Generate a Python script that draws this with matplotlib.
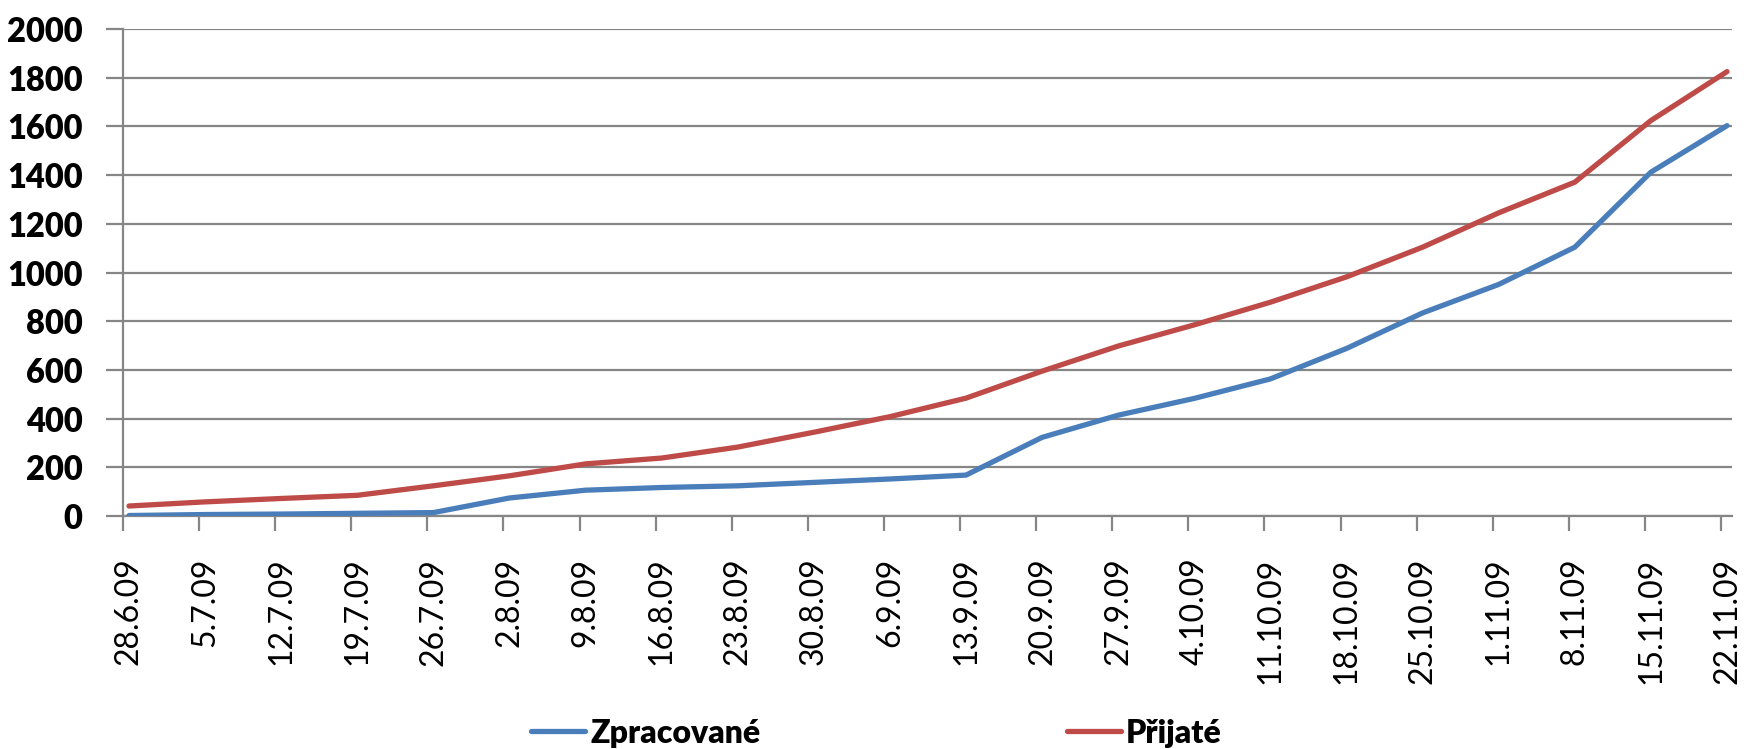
import matplotlib
matplotlib.use("Agg")
import matplotlib.pyplot as plt
import numpy as np

dates = ["28.6.09", "5.7.09", "12.7.09", "19.7.09", "26.7.09", "2.8.09", "9.8.09",
         "16.8.09", "23.8.09", "30.8.09", "6.9.09", "13.9.09", "20.9.09", "27.9.09",
         "4.10.09", "11.10.09", "18.10.09", "25.10.09", "1.11.09", "8.11.09",
         "15.11.09", "22.11.09"]
zpracovane = [2, 6, 8, 11, 14, 74, 106, 117, 124, 138, 152, 168, 323, 414,
              483, 563, 688, 834, 951, 1104, 1412, 1603]
prijate = [41, 58, 72, 85, 124, 165, 214, 238, 283, 344, 408, 484, 595, 698,
           785, 878, 982, 1104, 1245, 1371, 1624, 1825]
yticks = list(range(0, 2001, 200))

plt.rcParams['font.family'] = ['Lato', 'DejaVu Sans']

W, H = 1744, 749
fig = plt.figure(figsize=(W / 100, H / 100), dpi=100)
left, right, top, bottom = 123, 1732, 29, 516
ax = fig.add_axes([left / W, 1 - bottom / H, (right - left) / W, (bottom - top) / H])

grid_c = '#868686'
x = np.arange(len(dates))
off = 6 / 76.1

ax.plot(x, zpracovane, color='#4A7EBB', lw=3.8, solid_capstyle='round',
        solid_joinstyle='round', label='Zpracované', zorder=3)
ax.plot(x, prijate, color='#BE4B48', lw=3.8, solid_capstyle='round',
        solid_joinstyle='round', label='Přijaté', zorder=3)

ax.set_xlim(-off, len(dates) - 1 + 5 / 76.1)
ax.set_ylim(0, 2000)
ax.set_yticks(yticks)
ax.set_yticklabels([str(v) for v in yticks], fontsize=23.5, fontweight='heavy')
ax.yaxis.grid(True, color=grid_c, lw=1.6)
ax.set_axisbelow(True)

# major ticks: marks only; minor ticks: labels only
ax.set_xticks(x - off)
ax.set_xticklabels([])
ax.set_xticks(x, minor=True)
ax.set_xticklabels(dates, minor=True, rotation=90, fontsize=23)
ax.tick_params(axis='x', which='major', direction='out', length=11, width=1.6, color=grid_c)
ax.tick_params(axis='x', which='minor', length=0, pad=30)
ax.tick_params(axis='y', direction='out', length=12, width=1.6, color=grid_c, pad=17)

for s in ['top', 'right']:
    ax.spines[s].set_visible(False)
for s in ['left', 'bottom']:
    ax.spines[s].set_color(grid_c)
    ax.spines[s].set_linewidth(1.6)

fig.legend(loc='center', bbox_to_anchor=(0.5026, 1 - 733 / H), ncol=2, frameon=False,
           prop={'size': 23, 'weight': 'heavy'}, handlelength=1.7, handletextpad=0.15,
           columnspacing=9.6)

fig.savefig('out.png', dpi=100)
